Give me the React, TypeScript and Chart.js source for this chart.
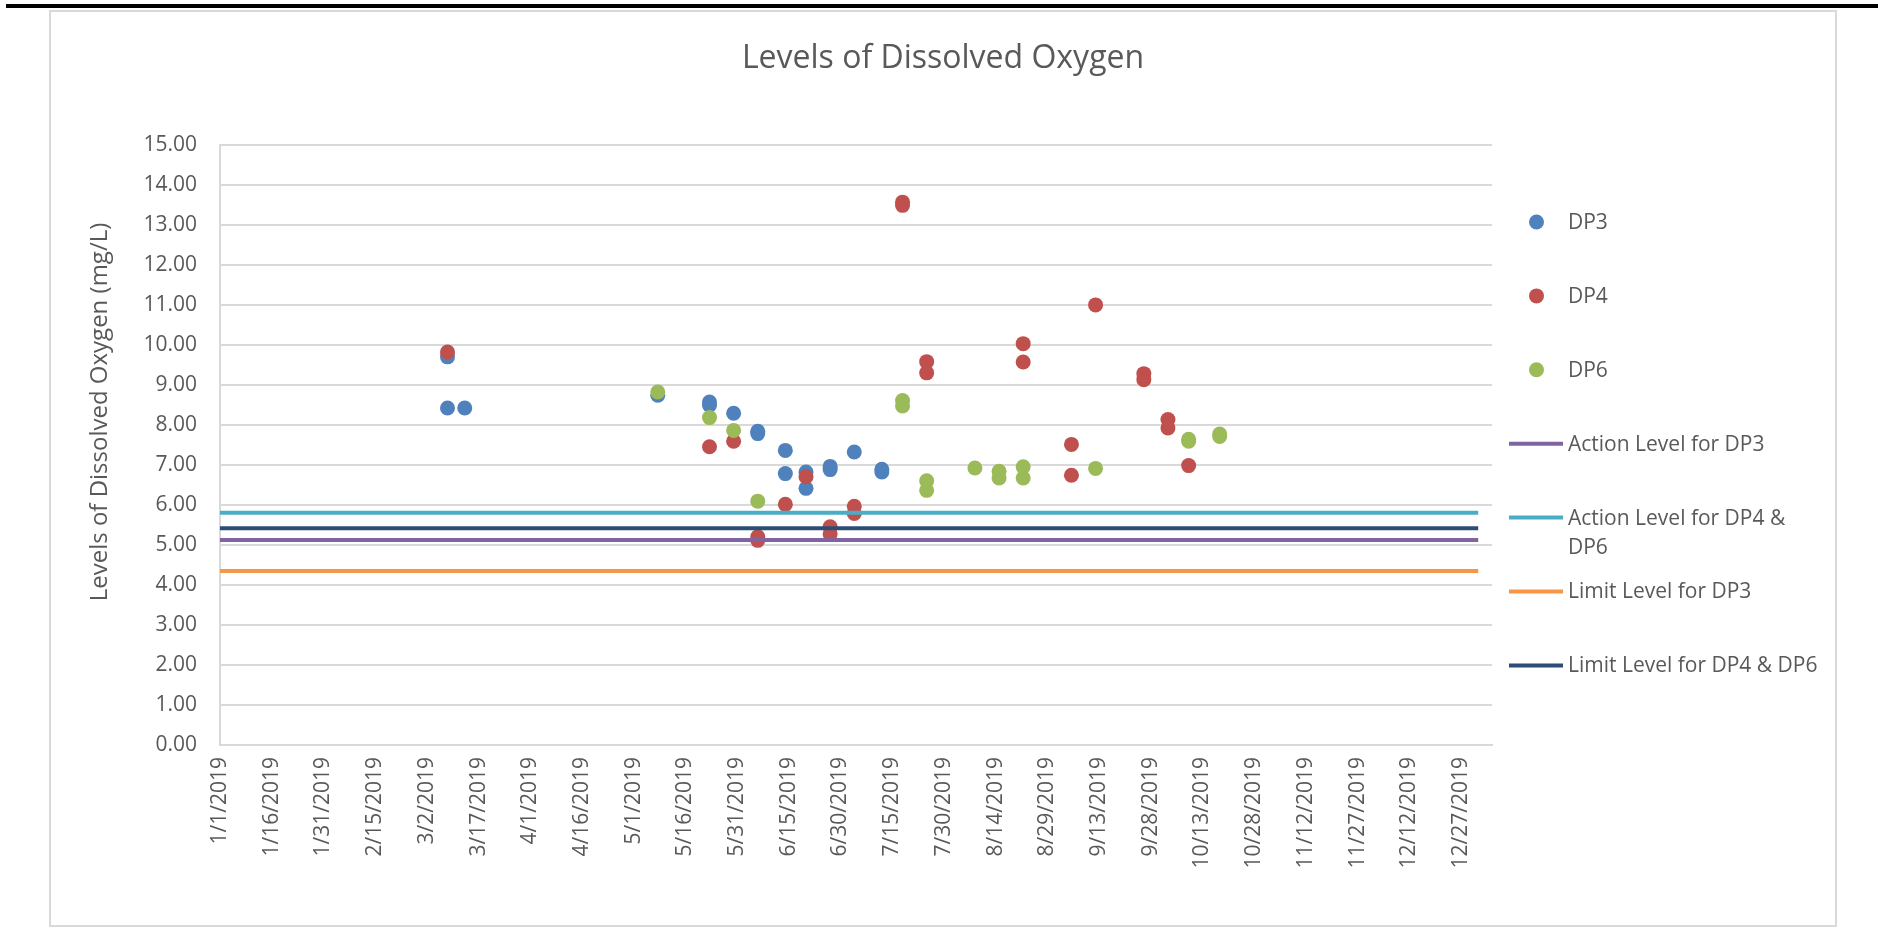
import React, { useEffect, useRef } from "react";
import { Chart, registerables } from "chart.js";

Chart.register(...registerables);

const chartTitle = "Levels of Dissolved Oxygen";
const yAxisTitle = "Levels of Dissolved Oxygen (mg/L)";

const xTickLabels = [
  "1/1/2019", "1/16/2019", "1/31/2019", "2/15/2019", "3/2/2019", "3/17/2019",
  "4/1/2019", "4/16/2019", "5/1/2019", "5/16/2019", "5/31/2019", "6/15/2019",
  "6/30/2019", "7/15/2019", "7/30/2019", "8/14/2019", "8/29/2019", "9/13/2019",
  "9/28/2019", "10/13/2019", "10/28/2019", "11/12/2019", "11/27/2019",
  "12/12/2019", "12/27/2019",
];
const xAxisStart = "1/1/2019";
const xAxisEnd = "1/5/2020";

const yMin = 0;
const yMax = 15;
const yStep = 1;

const dp3Dates = [
  "3/8/2019", "3/8/2019", "3/13/2019", "5/8/2019", "5/23/2019", "5/23/2019",
  "5/30/2019", "6/6/2019", "6/6/2019", "6/14/2019", "6/14/2019", "6/20/2019",
  "6/20/2019", "6/27/2019", "6/27/2019", "7/4/2019", "7/12/2019", "7/12/2019",
];
const dp3Values = [
  9.71, 8.43, 8.43, 8.75, 8.58, 8.5, 8.3, 7.85, 7.79, 7.37, 6.79, 6.83, 6.42,
  6.97, 6.89, 7.33, 6.9, 6.83,
];

const dp4Dates = [
  "3/8/2019", "5/23/2019", "5/30/2019", "6/6/2019", "6/6/2019", "6/14/2019",
  "6/20/2019", "6/27/2019", "6/27/2019", "7/4/2019", "7/4/2019", "7/18/2019",
  "7/18/2019", "7/25/2019", "7/25/2019", "8/22/2019", "8/22/2019", "9/5/2019",
  "9/5/2019", "9/12/2019", "9/26/2019", "9/26/2019", "10/3/2019", "10/3/2019",
  "10/9/2019",
];
const dp4Values = [
  9.83, 7.46, 7.6, 5.21, 5.12, 6.02, 6.71, 5.46, 5.28, 5.97, 5.79, 13.58, 13.5,
  9.59, 9.31, 10.04, 9.58, 7.52, 6.75, 11.01, 9.29, 9.14, 8.14, 7.93, 6.99,
];

const dp6Dates = [
  "5/8/2019", "5/23/2019", "5/30/2019", "6/6/2019", "7/18/2019", "7/18/2019",
  "7/25/2019", "7/25/2019", "8/8/2019", "8/15/2019", "8/15/2019", "8/22/2019",
  "8/22/2019", "9/12/2019", "10/9/2019", "10/9/2019", "10/18/2019", "10/18/2019",
];
const dp6Values = [
  8.83, 8.19, 7.87, 6.1, 8.62, 8.48, 6.61, 6.37, 6.93, 6.85, 6.68, 6.96, 6.68,
  6.92, 7.65, 7.6, 7.78, 7.72,
];

const pointSeriesNames = ["DP3", "DP4", "DP6"];
const pointSeriesColors = ["#4F81BD", "#C0504D", "#9BBB59"];

const levelNames = [
  "Action Level for DP3",
  "Action Level for DP4 & DP6",
  "Limit Level for DP3",
  "Limit Level for DP4 & DP6",
];
const levelValues = [5.13, 5.81, 4.35, 5.42];
const levelColors = ["#8064A2", "#4BACC6", "#F79646", "#2C4D75"];
const levelStart = "1/1/2019";
const levelEnd = "1/1/2020";

const FONT = "'Open Sans', sans-serif";
const TEXT = "#595959";
const GRID = "#d9d9d9";

const BASE = Date.UTC(2019, 0, 1);
function dayOf(s: string): number {
  const [m, d, y] = s.split("/").map(Number);
  return Math.round((Date.UTC(y, m - 1, d) - BASE) / 86400000);
}

const xTickValues = xTickLabels.map(dayOf);

function pairs(dates: string[], values: number[]) {
  return dates.map((d, i) => ({ x: dayOf(d), y: values[i] }));
}

const legendPlugin = {
  id: "excelExtras",
  afterDraw(chart: any) {
    const ctx = chart.ctx as CanvasRenderingContext2D;
    ctx.save();
    // y axis title
    ctx.fillStyle = TEXT;
    ctx.font = `24px ${FONT}`;
    ctx.textAlign = "center";
    ctx.textBaseline = "alphabetic";
    ctx.translate(107, 412);
    ctx.rotate(-Math.PI / 2);
    ctx.fillText(yAxisTitle, 0, 0);
    ctx.restore();

    // legend
    ctx.save();
    ctx.font = `21px ${FONT}`;
    ctx.textAlign = "left";
    ctx.textBaseline = "middle";
    const items = [
      ...pointSeriesNames.map((n, i) => ({ name: n, color: pointSeriesColors[i], dot: true })),
      ...levelNames.map((n, i) => ({ name: n, color: levelColors[i], dot: false })),
    ];
    const textX = 1568;
    const maxW = 255;
    let y = 222;
    const step = 73.9;
    items.forEach((it) => {
      if (it.dot) {
        ctx.beginPath();
        ctx.fillStyle = it.color;
        ctx.arc(1536.5, y, 7.5, 0, Math.PI * 2);
        ctx.fill();
      } else {
        ctx.beginPath();
        ctx.strokeStyle = it.color;
        ctx.lineWidth = 4;
        ctx.moveTo(1509, y);
        ctx.lineTo(1563, y);
        ctx.stroke();
      }
      ctx.fillStyle = TEXT;
      const words = it.name.split(" ");
      const lines: string[] = [];
      let cur = "";
      words.forEach((w) => {
        const test = cur ? cur + " " + w : w;
        if (ctx.measureText(test).width > maxW && cur) {
          lines.push(cur);
          cur = w;
        } else cur = test;
      });
      if (cur) lines.push(cur);
      lines.forEach((ln, k) => ctx.fillText(ln, textX, y + 1 + k * 29.7));
      y += step;
    });
    ctx.restore();
  },
};

export default function App() {
  const ref = useRef<HTMLCanvasElement | null>(null);

  useEffect(() => {
    if (!ref.current) return;
    const pointSets = [
      pairs(dp3Dates, dp3Values),
      pairs(dp4Dates, dp4Values),
      pairs(dp6Dates, dp6Values),
    ];
    const datasets: any[] = [];
    pointSets.forEach((data, i) => {
      datasets.push({
        type: "scatter",
        label: pointSeriesNames[i],
        data,
        backgroundColor: pointSeriesColors[i],
        borderColor: pointSeriesColors[i],
        pointRadius: 7.5,
        pointHoverRadius: 7.5,
        borderWidth: 0,
        pointBorderWidth: 0,
        showLine: false,
        order: 7 - i,
      });
    });
    levelValues.forEach((v, i) => {
      datasets.push({
        type: "line",
        label: levelNames[i],
        data: [
          { x: dayOf(levelStart), y: v },
          { x: dayOf(levelEnd), y: v },
        ],
        borderColor: levelColors[i],
        backgroundColor: levelColors[i],
        borderWidth: 4,
        pointRadius: 0,
        pointHoverRadius: 0,
        fill: false,
        order: 4 - i,
      });
    });

    const chart = new Chart(ref.current, {
      type: "scatter",
      data: { datasets },
      plugins: [legendPlugin],
      options: {
        responsive: false,
        animation: false,
        devicePixelRatio: 1,
        layout: { padding: { left: 49, right: 41, top: 10, bottom: 6 } },
        plugins: {
          legend: { display: false },
          tooltip: { enabled: false },
          title: {
            display: true,
            text: chartTitle,
            color: TEXT,
            font: { family: FONT, size: 32, weight: "normal" },
            padding: { top: 30, bottom: 67 },
          },
        },
        scales: {
          x: {
            type: "linear",
            min: dayOf(xAxisStart),
            max: dayOf(xAxisEnd),
            afterBuildTicks: (s: any) => {
              s.ticks = xTickValues.map((v) => ({ value: v }));
            },
            afterFit: (s: any) => {
              s.height = 181;
            },
            ticks: {
              autoSkip: false,
              minRotation: 90,
              maxRotation: 90,
              padding: 12,
              color: TEXT,
              font: { family: FONT, size: 21 },
              callback: (v: any) => {
                const idx = xTickValues.indexOf(Number(v));
                return idx >= 0 ? xTickLabels[idx] : "";
              },
            },
            grid: { display: false, drawTicks: false },
            border: { display: true, color: GRID, width: 2 },
          },
          y: {
            type: "linear",
            position: "left",
            min: yMin,
            max: yMax,
            afterFit: (s: any) => {
              s.width = 171;
            },
            ticks: {
              stepSize: yStep,
              padding: 23,
              color: TEXT,
              font: { family: FONT, size: 21 },
              callback: (v: any) => Number(v).toFixed(2),
            },
            grid: { color: GRID, lineWidth: 2, drawTicks: false },
            border: { display: true, color: GRID, width: 2 },
          },
          legendSpace: {
            type: "linear",
            position: "right",
            display: true,
            grid: { display: false, drawTicks: false },
            ticks: { display: false },
            border: { display: false },
            afterFit: (s: any) => {
              s.width = 345;
            },
          },
        },
      } as any,
    });
    return () => chart.destroy();
  }, []);

  return (
    <div style={{ position: "fixed", left: 0, top: 0, width: 1878, height: 932, background: "#fff" }}>
      <div style={{ position: "absolute", left: 6, top: 4, width: 1872, height: 4, background: "#000" }} />
      <div
        style={{
          position: "absolute",
          left: 49,
          top: 10,
          width: 1788,
          height: 917,
          border: "2px solid #d9d9d9",
          boxSizing: "border-box",
        }}
      />
      <canvas ref={ref} width={1878} height={932} style={{ position: "absolute", left: 0, top: 0, width: 1878, height: 932 }} />
    </div>
  );
}
